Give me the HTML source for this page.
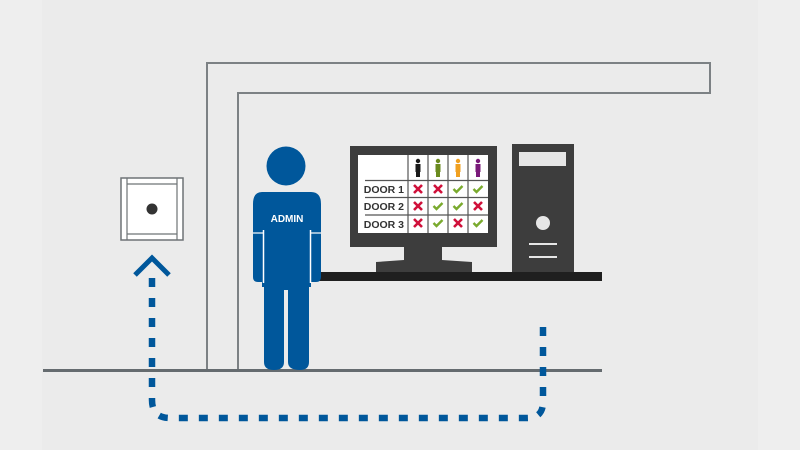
<!DOCTYPE html>
<html><head><meta charset="utf-8"><style>
html,body{margin:0;padding:0;background:#ebebeb;}
svg{display:block;}
</style></head><body>
<svg width="800" height="450" viewBox="0 0 800 450" xmlns="http://www.w3.org/2000/svg">
<rect width="800" height="450" fill="#ebebeb"/>
<rect x="0" y="0" width="42" height="450" fill="#eeeeee"/>
<rect x="758" y="0" width="42" height="450" fill="#eeeeee"/>
<path d="M207 371 V63 H710 V93 H238 V371" fill="none" stroke="#7c8184" stroke-width="2"/>
<rect x="43" y="369" width="559" height="3" fill="#656b6f"/>
<path d="M152 278 V400 Q152 418 170 418 H527 Q543 418 543 402 V316" fill="none" stroke="#00579b" stroke-width="6.5" stroke-dasharray="9 11"/>
<path d="M135 275 L152 258 L169 275" fill="none" stroke="#00579b" stroke-width="5"/>
<rect x="121" y="178" width="62" height="62" fill="#fff" stroke="#6e7376" stroke-width="1.5"/>
<line x1="127" y1="178" x2="127" y2="240" stroke="#6e7376" stroke-width="1.2"/>
<line x1="177" y1="178" x2="177" y2="240" stroke="#6e7376" stroke-width="1.2"/>
<line x1="127" y1="184" x2="177" y2="184" stroke="#6e7376" stroke-width="1.2"/>
<line x1="127" y1="234" x2="177" y2="234" stroke="#6e7376" stroke-width="1.2"/>
<circle cx="152" cy="209" r="5.5" fill="#333"/>
<rect x="312" y="272" width="290" height="9" fill="#1f1f1f"/>
<g fill="#00579b">
<circle cx="286" cy="166" r="19.5"/>
<path d="M262 192 H311 Q321 192 321 204 V277 Q321 282 316 282 L311 282 V287 H309 V362 Q309 370 300 370 Q288 370 288 362 V290 H284 V362 Q284 370 274 370 Q264 370 264 362 V287 H262 V282 L258 282 Q253 282 253 277 V204 Q253 192 262 192 Z"/>
</g>
<line x1="263.5" y1="230" x2="263.5" y2="283" stroke="#fff" stroke-width="1.5"/>
<line x1="310.5" y1="230" x2="310.5" y2="283" stroke="#fff" stroke-width="1.5"/>
<line x1="253" y1="233" x2="263" y2="233" stroke="#fff" stroke-width="1.2"/>
<line x1="311" y1="233" x2="321" y2="233" stroke="#fff" stroke-width="1.2"/>
<text x="287" y="222" font-family="Liberation Sans, sans-serif" font-weight="bold" font-size="10" fill="#fff" text-anchor="middle">ADMIN</text>
<rect x="350" y="146" width="147" height="101" fill="#3d3d3d"/>
<rect x="358" y="155" width="130" height="78" fill="#fff"/>
<rect x="404" y="246" width="38" height="18" fill="#3d3d3d"/>
<path d="M376 272 V262 L404 260 H442 L472 262 V272 Z" fill="#3d3d3d"/>
<g stroke="#555" stroke-width="1.2">
<line x1="408" y1="155" x2="408" y2="233"/>
<line x1="428" y1="155" x2="428" y2="233"/>
<line x1="448" y1="155" x2="448" y2="233"/>
<line x1="468" y1="155" x2="468" y2="233"/>
<line x1="365" y1="180.5" x2="488" y2="180.5"/>
<line x1="365" y1="197.5" x2="488" y2="197.5"/>
<line x1="365" y1="215" x2="488" y2="215"/>
</g>
<g font-family="Liberation Sans, sans-serif" font-weight="bold" font-size="10.5" fill="#333" text-anchor="end">
<text x="404" y="193">DOOR 1</text>
<text x="404" y="210">DOOR 2</text>
<text x="404" y="228">DOOR 3</text>
</g>
<g>
<g fill="#1a1a1a"><circle cx="418" cy="161" r="2.2"/><rect x="415.5" y="164" width="5" height="8"/><rect x="416" y="171" width="4" height="6"/></g>
<g fill="#6a8a1e"><circle cx="438" cy="161" r="2.2"/><rect x="435.5" y="164" width="5" height="8"/><rect x="436" y="171" width="4" height="6"/></g>
<g fill="#f0a020"><circle cx="458" cy="161" r="2.2"/><rect x="455.5" y="164" width="5" height="8"/><rect x="456" y="171" width="4" height="6"/></g>
<g fill="#7a1a7a"><circle cx="478" cy="161" r="2.2"/><rect x="475.5" y="164" width="5" height="8"/><rect x="476" y="171" width="4" height="6"/></g>
</g>
<defs>
<g id="x"><path d="M-4 -4 L4 4 M4 -4 L-4 4" stroke="#d0103a" stroke-width="2.6"/></g>
<g id="c"><path d="M-4.5 0 L-1.5 3 L4.5 -3" fill="none" stroke="#7aaa2e" stroke-width="2.4"/></g>
</defs>
<use href="#x" x="418" y="189"/><use href="#x" x="438" y="189"/><use href="#c" x="458" y="189"/><use href="#c" x="478" y="189"/>
<use href="#x" x="418" y="206"/><use href="#c" x="438" y="206"/><use href="#c" x="458" y="206"/><use href="#x" x="478" y="206"/>
<use href="#x" x="418" y="223"/><use href="#c" x="438" y="223"/><use href="#x" x="458" y="223"/><use href="#c" x="478" y="223"/>
<rect x="512" y="144" width="62" height="128" fill="#3d3d3d"/>
<rect x="519" y="152" width="47" height="14" fill="#e6e6e6"/>
<circle cx="543" cy="223" r="7" fill="#e6e6e6"/>
<rect x="529" y="243" width="28" height="2" fill="#e6e6e6"/>
<rect x="529" y="256" width="28" height="2" fill="#e6e6e6"/>
</svg>
</body></html>
